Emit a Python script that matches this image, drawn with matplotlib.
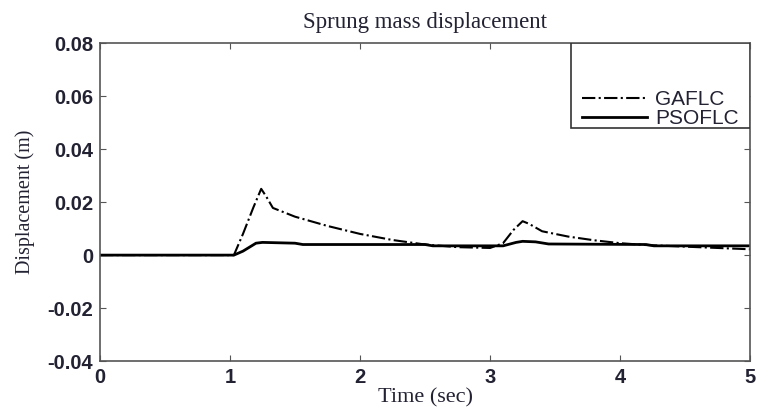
import matplotlib
matplotlib.use("Agg")
import matplotlib.pyplot as plt
from matplotlib.patches import Rectangle

# Data
t_ga = [0.0, 1.03, 1.10, 1.18, 1.24, 1.28, 1.33, 1.50, 1.75, 2.00, 2.25, 2.50, 2.75, 3.00, 3.10, 3.18, 3.25, 3.30, 3.40, 3.60, 3.80, 4.00, 4.20, 4.60, 5.00]
y_ga = [0.0, 0.0, 0.008, 0.018, 0.025, 0.022, 0.0178, 0.0145, 0.011, 0.0080, 0.0057, 0.0040, 0.0030, 0.0027, 0.0045, 0.0095, 0.0128, 0.0118, 0.0090, 0.0070, 0.0056, 0.0045, 0.0038, 0.0030, 0.0022]

t_pso = [0.0, 1.03, 1.10, 1.20, 1.25, 1.50, 1.56, 2.50, 2.56, 3.10, 3.20, 3.25, 3.35, 3.45, 4.20, 4.26, 5.00]
y_pso = [0.0, 0.0, 0.0015, 0.0045, 0.0048, 0.0045, 0.0040, 0.0040, 0.0035, 0.0035, 0.0048, 0.0052, 0.0050, 0.0042, 0.0040, 0.0035, 0.0035]

x_ticks = [0, 1, 2, 3, 4, 5]
y_ticks = [-0.04, -0.02, 0, 0.02, 0.04, 0.06, 0.08]
y_tick_labels = ["-0.04", "-0.02", "0", "0.02", "0.04", "0.06", "0.08"]

text_color = "#222233"
axis_color = "#555555"

fig = plt.figure(figsize=(7.57, 4.18), dpi=100)
ax = fig.add_axes([0.132, 0.136, 0.859, 0.761])

ax.plot(t_ga, y_ga, color="black", linestyle="-.", linewidth=1.5, label="GAFLC")
ax.plot(t_pso, y_pso, color="black", linestyle="-", linewidth=2.0, label="PSOFLC")

ax.set_xlim(0, 5)
ax.set_ylim(-0.04, 0.08)
ax.set_xticks(x_ticks)
ax.set_yticks(y_ticks)
ax.set_yticklabels(y_tick_labels)
ax.tick_params(direction="in", top=True, right=True, length=4, width=0.8,
               colors=axis_color, labelcolor=text_color, labelsize=14.5, pad=5)
for lab in ax.get_xticklabels() + ax.get_yticklabels():
    lab.set_fontweight("bold")
    lab.set_family("Liberation Sans")
for s in ax.spines.values():
    s.set_color(axis_color)
    s.set_linewidth(1.2)

ax.set_title("Sprung mass displacement", family="Liberation Serif", fontsize=16.5,
             y=(361 - 22) / 318, pad=0, va="center", color=text_color)
ax.set_xlabel("Time (sec)", family="Liberation Serif", fontsize=16, color=text_color)
ax.xaxis.set_label_coords(0.5, -0.085)
ax.set_ylabel("Displacement (m)", family="Liberation Serif", fontsize=14.5, color=text_color)
ax.yaxis.set_label_coords(-0.1, 0.5)

# legend frame (Matlab-style box with large top padding)
frame = Rectangle((0.7246, 0.733), 0.2754, 0.267, transform=ax.transAxes,
                  facecolor="white", edgecolor="#333333", linewidth=1.2, zorder=3)
ax.add_patch(frame)
leg = ax.legend(loc="center left", bbox_to_anchor=(0.7415, 0.7925), borderaxespad=0.0,
                borderpad=0.0, frameon=False,
                prop={"family": "Liberation Sans", "size": 15}, handlelength=3.1,
                labelspacing=0.0, handletextpad=0.4)
leg.set_zorder(4)
for txt in leg.get_texts():
    txt.set_color(text_color)

fig.savefig("out.png", dpi=100)
